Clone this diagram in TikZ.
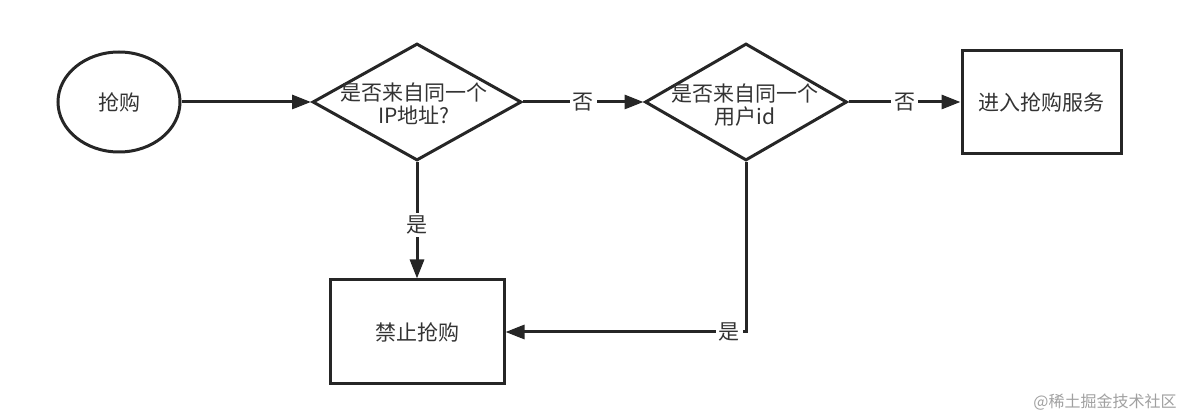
\documentclass[tikz,border=0pt]{standalone}
\usepackage{fontspec}
\setmainfont{Noto Sans CJK SC}
\usetikzlibrary{shapes.geometric,arrows.meta}
\definecolor{ln}{HTML}{262626}
\definecolor{tx}{HTML}{333333}
\definecolor{wm}{HTML}{A0A0A0}
\begin{document}
\begin{tikzpicture}[x=1pt,y=-1pt,
  every node/.style={text=tx},
  txt/.style={font=\fontsize{21}{23}\selectfont, align=center},
  startbox/.style={draw=ln, line width=3pt, ellipse, minimum width=122pt, minimum height=100pt, inner sep=0pt, txt},
  decbox/.style={draw=ln, line width=3pt, diamond, minimum height=117pt, inner sep=0pt},
  procbox/.style={draw=ln, line width=3pt, rectangle, inner sep=0pt, txt},
  arr/.style={draw=ln, line width=3pt, -{Triangle[length=19pt,width=14pt]}},
  lbl/.style={fill=white, inner sep=3pt, txt}]
\useasboundingbox (0,0) rectangle (1200,419);
\node[startbox] (start) at (119,102) {抢购};
\node[decbox, minimum width=209pt] (d1) at (417,102) {};
\node[txt] (d1t) at (414,104) {是否来自同一个\\IP地址?};
\node[decbox, minimum width=202pt] (d2) at (746,102) {};
\node[txt] (d2t) at (745,105) {是否来自同一个\\用户id};
\node[procbox, minimum width=159pt, minimum height=103pt] (r1) at (1041.5,102) {进入抢购服务};
\node[procbox, minimum width=174pt, minimum height=104pt] (r2) at (417,332) {禁止抢购};
\draw[arr] (start.east) -- (d1.west);
\draw[arr] (d1.east) -- node[lbl] {否} (d2.west);
\draw[arr] (d2.east) -- node[lbl] {否} (r1.west);
\draw[arr] (d1.south) -- node[lbl, pos=0.54] {是} (r2.north);
\draw[arr] (d2.south) |- node[lbl, pos=0.535] {是} (r2.east);
\node[font=\fontsize{16}{18}\selectfont, text=wm] (wmk) at (1105,402) {@稀土掘金技术社区};
\end{tikzpicture}
\end{document}
